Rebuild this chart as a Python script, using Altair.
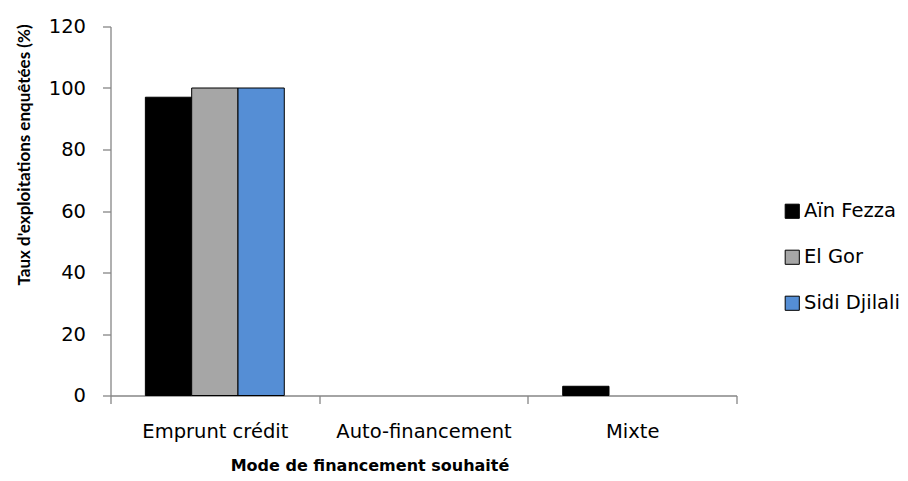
import altair as alt
import pandas as pd

categories = ["Emprunt crédit", "Auto-financement", "Mixte"]
series = ["Aïn Fezza", "El Gor", "Sidi Djilali"]
ain_fezza = [97, 0, 3]
el_gor = [100, 0, 0]
sidi_djilali = [100, 0, 0]
colors = ["#000000", "#a6a6a6", "#558ed5"]

rows = []
for s, vals in zip(series, [ain_fezza, el_gor, sidi_djilali]):
    for c, v in zip(categories, vals):
        rows.append({"cat": c, "site": s, "value": v})
df = pd.DataFrame(rows)

FONT = "DejaVu Sans"

chart = alt.Chart(df).transform_filter(alt.datum.value > 0).mark_bar(
    stroke="#000000", strokeWidth=1
).encode(
    x=alt.X("cat:N", sort=categories,
            scale=alt.Scale(domain=categories, paddingInner=0, paddingOuter=0),
            axis=alt.Axis(title="Mode de financement souhaité", labelAngle=0,
                          tickBand="extent", tickSize=8, labelPadding=19,
                          titleFont="DejaVu Sans", titleFontSize=16,
                          titleX=259, titleY=70, titleBaseline="middle")),
    xOffset=alt.XOffset("site:N", sort=series,
                        scale=alt.Scale(domain=series, paddingInner=0, paddingOuter=0.753)),
    y=alt.Y("value:Q", scale=alt.Scale(domain=[0, 120], nice=False),
            axis=alt.Axis(title="Taux d'exploitations enquêtées (%)", values=[0, 20, 40, 60, 80, 100, 120],
                          grid=False, tickSize=8, labelPadding=17,
                          titleFont="Lato", titleFontSize=17,
                          titleX=-86, titleY=128, titleBaseline="middle")),
    color=alt.Color("site:N", sort=series,
                    scale=alt.Scale(domain=series, range=colors),
                    legend=alt.Legend(title=None, orient="none", legendX=672, legendY=175,
                                      symbolType="square", symbolSize=200,
                                      symbolStrokeColor="#000000", symbolStrokeWidth=1,
                                      rowPadding=25, labelFontSize=19.5, labelFont=FONT,
                                      labelColor="#000000", labelOffset=2)),
).properties(
    width=626, height=369,
    autosize=alt.AutoSizeParams(type="none"),
    padding={"left": 102.5, "top": 18.5, "right": 163, "bottom": 84},
).configure_view(stroke=None).configure_axis(
    domainColor="#868686", tickColor="#868686", labelFont=FONT,
    labelFontSize=19.5, titleFontWeight="bold", labelColor="#000000",
    titleColor="#000000", domainWidth=1.3, tickWidth=1.3
)

chart.save("out.html", embed_options={"renderer": "svg", "actions": False})
